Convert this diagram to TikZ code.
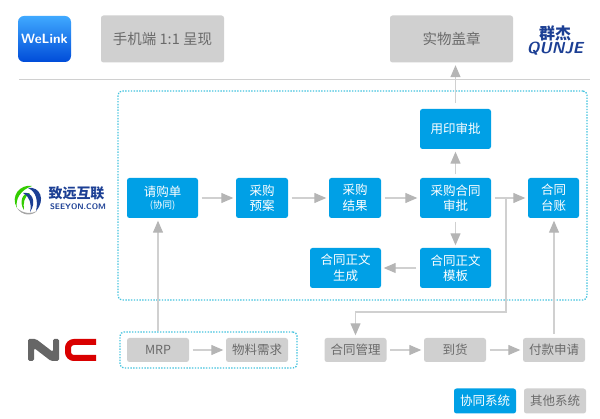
\documentclass[tikz,border=0pt]{standalone}
\usepackage{fontspec}
\setmainfont{Noto Sans CJK SC}
\usetikzlibrary{arrows.meta,calc}
\definecolor{xtblue}{HTML}{00A0E6}
\definecolor{qtgray}{HTML}{D0D0D0}
\definecolor{qttext}{HTML}{6A6A6A}
\definecolor{arrgray}{HTML}{B5B5B5}
\definecolor{linegray}{HTML}{D0D0D0}
\definecolor{dotblue}{HTML}{45C3DE}
\definecolor{logoblue}{HTML}{1C3F94}
\tikzset{
    xt/.style={fill=xtblue,text=white,rounded corners=2.5pt,inner sep=0pt,align=center,font=\fontsize{12.5}{15.5}\selectfont},
    qt/.style={fill=qtgray,text=qttext,rounded corners=2.5pt,inner sep=0pt,align=center,font=\fontsize{12.5}{14}\selectfont},
    flow/.style={draw=linegray,line width=1.2pt,-{Triangle[length=12pt,width=10pt,color=arrgray]},shorten >=2.5pt,shorten <=3.5pt},
    dotbox/.style={draw=dotblue,line width=1.3pt,dash pattern=on 1.4pt off 1.4pt,rounded corners=4pt,inner sep=0pt}
}
\begin{document}
\begin{tikzpicture}[x=1pt,y=-1pt]
    \useasboundingbox (0,0) rectangle (600,419);
    % top row
    \node[qt,minimum width=123pt,minimum height=47pt,font=\fontsize{14.5}{16}\selectfont] (shouji) at (162.5,39) {手机端 1:1 呈现};
    \node[qt,minimum width=123pt,minimum height=47pt,font=\fontsize{14.5}{16}\selectfont] (gaizhang) at (451.5,39) {实物盖章};
    \draw[linegray,line width=1pt] (19,80)--(590,80);
    % big dotted frame
    \node[dotbox,minimum width=469pt,minimum height=209pt] (xtframe) at (352.5,195.5) {};
    % blue boxes
    \node[xt,minimum width=71pt,minimum height=40pt] (qinggou) at (162.5,198) {请购单\\[-3pt]{\fontsize{9.5}{11}\selectfont (协同)}};
    \node[xt,minimum width=52pt,minimum height=40pt] (yuan) at (262,198) {采购\\预案};
    \node[xt,minimum width=52pt,minimum height=40pt] (jieguo) at (355,198) {采购\\结果};
    \node[xt,minimum width=71pt,minimum height=40pt] (shenpi) at (455.5,198) {采购合同\\审批};
    \node[xt,minimum width=51pt,minimum height=40pt] (taizhang) at (553.5,198) {合同\\台账};
    \node[xt,minimum width=71pt,minimum height=40pt] (yongyin) at (455.5,129) {用印审批};
    \node[xt,minimum width=71pt,minimum height=40pt] (moban) at (455.5,268) {合同正文\\模板};
    \node[xt,minimum width=71pt,minimum height=40pt] (shengcheng) at (345.5,268) {合同正文\\生成};
    % gray boxes
    \node[dotbox,minimum width=177pt,minimum height=36pt] (ncframe) at (208.5,350) {};
    \node[qt,minimum width=62pt,minimum height=24pt] (mrp) at (158,350) {MRP};
    \node[qt,minimum width=62pt,minimum height=24pt] (xuqiu) at (257,350) {物料需求};
    \node[qt,minimum width=62pt,minimum height=24pt] (guanli) at (355.5,350) {合同管理};
    \node[qt,minimum width=62pt,minimum height=24pt] (daohuo) at (455,350) {到货};
    \node[qt,minimum width=62pt,minimum height=24pt] (fukuan) at (554,350) {付款申请};
    % legend
    \node[xt,minimum width=62pt,minimum height=25pt] (lgxt) at (485,401) {协同系统};
    \node[qt,minimum width=62pt,minimum height=25pt] (lgqt) at (555,401) {其他系统};
    % arrows
    \draw[flow] (qinggou)--(yuan);
    \draw[flow] (yuan)--(jieguo);
    \draw[flow] (jieguo)--(shenpi);
    \draw[flow] (shenpi)--(taizhang);
    \draw[flow] (shenpi)--(yongyin);
    \draw[flow,shorten <=6pt] (yongyin.north)--(yongyin.north |- gaizhang.south);
    \draw[flow] (shenpi)--(moban);
    \draw[flow] (moban)--(shengcheng);
    \draw[flow] (mrp)--(xuqiu);
    \draw[flow] (guanli)--(daohuo);
    \draw[flow] (daohuo)--(fukuan);
    \draw[flow,shorten <=0pt] (mrp.north |- ncframe.north)--(mrp.north |- qinggou.south);
    \draw[flow,shorten <=4pt] (fukuan.north)--(fukuan.north |- taizhang.south);
    \coordinate (branch) at (506,198);
    \draw[flow,shorten <=0pt] (branch)--(506,312)--(355.5,312)--(guanli.north);
    % logos
    \shade[top color=cyan!55!blue!75,bottom color=blue!65!cyan!85!black,rounded corners=6pt] (18,16) rectangle (71,62);
    \node[text=white,font=\sffamily\bfseries\fontsize{13.5}{14}\selectfont,inner sep=0pt] (welink) at (44.5,39) {WeLink};
    \node[text=logoblue,font=\bfseries\fontsize{16}{18}\selectfont,inner sep=0pt] (qunzh) at (555,33) {群杰};
    \node[text=logoblue,font=\sffamily\bfseries\itshape\fontsize{16}{18}\selectfont,inner sep=0pt] (qunen) at (555,49) {QUNJE};
    \node[text=logoblue,font=\bfseries\fontsize{14}{16}\selectfont,inner sep=0pt] (seeyon) at (76.5,193) {致远互联};
    \node[text=logoblue,font=\sffamily\bfseries\fontsize{8}{9}\selectfont,inner sep=0pt] (seeyonen) at (78,207) {SEEYON.COM};
    \fill[green!60!olive] (32,186) .. controls (20,184) and (10,196) .. (17,208) .. controls (15,200) and (20,190) .. (32,186);
    \fill[green!60!olive] (30,193) .. controls (22,192) and (19,203) .. (24,210) .. controls (23,203) and (24,197) .. (30,193);
    \fill[logoblue] (28,188) .. controls (40,186) and (46,200) .. (36,211) .. controls (38,202) and (37,192) .. (28,188);
    \fill[logoblue] (23,193) .. controls (32,191) and (37,202) .. (30,212) .. controls (32,204) and (30,197) .. (23,193);
    \fill[black!35] (17,208) .. controls (22,216) and (32,216) .. (37,211) .. controls (32,214) and (23,214) .. (17,208);
    % NC logo
    \fill[black!60,rounded corners=1.5pt] (28,361)--(28,339)--(36,339)--(53,352)--(53,339)--(59,339)--(59,361)--(51,361)--(34,348)--(34,361)--cycle;
    \draw[red!85!black,line width=6pt,rounded corners=6pt] (96,342)--(68,342)--(68,358)--(96,358);
\end{tikzpicture}
\end{document}
